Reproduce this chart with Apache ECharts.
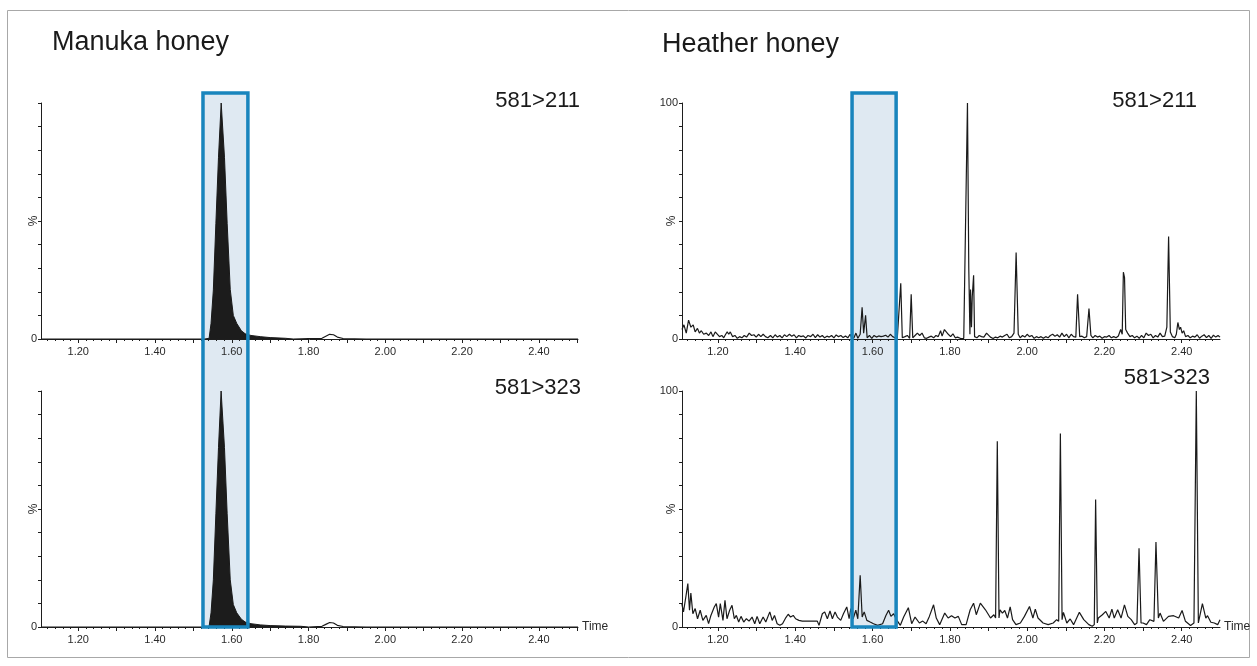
<!DOCTYPE html>
<html><head><meta charset="utf-8">
<script src="https://cdn.jsdelivr.net/npm/echarts@6/dist/echarts.min.js"></script>
<style>html,body{margin:0;padding:0;background:#fff}#c{width:1257px;height:666px}</style>
</head><body><div id="c"></div>
<script>
const FONT = '"Liberation Sans", Arial, sans-serif';

// ---- tick values ----
const xTickLabels = [1.2, 1.4, 1.6, 1.8, 2.0, 2.2, 2.4];
const xMajorTicks = [1.2, 1.3, 1.4, 1.5, 1.6, 1.7, 1.8, 1.9, 2.0, 2.1, 2.2, 2.3, 2.4, 2.5];
const xMinorTicks = [1.12,1.14,1.16,1.18,1.20,1.22,1.24,1.26,1.28,1.30,1.32,1.34,1.36,1.38,1.40,1.42,1.44,1.46,1.48,1.50,
  1.52,1.54,1.56,1.58,1.60,1.62,1.64,1.66,1.68,1.70,1.72,1.74,1.76,1.78,1.80,1.82,1.84,1.86,1.88,1.90,
  1.92,1.94,1.96,1.98,2.00,2.02,2.04,2.06,2.08,2.10,2.12,2.14,2.16,2.18,2.20,2.22,2.24,2.26,2.28,2.30,
  2.32,2.34,2.36,2.38,2.40,2.42,2.44,2.46,2.48,2.50];
const yTicks = [0, 10, 20, 30, 40, 50, 60, 70, 80, 90, 100];
const yLabelsLeft = [0];
const yLabelsRight = [0, 100];

// ---- panel texts ----
const panelTitles = ['Manuka honey', 'Heather honey'];
const transitions = ['581>211', '581>323'];

// ---- highlighted retention windows (time) ----
const boxManuka = [1.525, 1.642];
const boxHeather = [1.547, 1.661];
const boxTopPct = 104.2;

// ---- Manuka honey, 581>211 : [time, %] (filled peak, then outline trace) ----
const manuka211Peak = [[1.103,0],[1.400,0],[1.530,0],[1.541,0.3],[1.546,6.6],[1.552,20.8],[1.5586,49],[1.5654,77],
  [1.5724,100],[1.581,77],[1.588,49],[1.596,21],[1.604,10],[1.613,6.6],[1.625,3.5],[1.635,2.2],[1.650,1.5],
  [1.674,1],[1.700,0.6],[1.740,0.3],[1.760,0]];
const manuka211Tail = [[1.760,0],[1.800,0.2],[1.835,0.3],[1.845,1.2],[1.855,2],[1.865,1.8],[1.875,0.8],
  [1.890,0.2],[1.950,0],[2.502,0]];

// ---- Manuka honey, 581>323 ----
const manuka323Peak = [[1.103,0],[1.400,0],[1.530,0],[1.541,0.3],[1.546,6],[1.552,20],[1.5586,48],[1.5654,76],
  [1.5722,100],[1.581,76],[1.588,48],[1.596,20],[1.604,9.5],[1.613,6],[1.625,3.3],[1.635,2.1],[1.650,1.4],
  [1.674,0.9],[1.700,0.6],[1.740,0.4],[1.780,0.3],[1.800,0]];
const manuka323Tail = [[1.800,0],[1.835,0.3],[1.845,1.1],[1.855,1.9],[1.865,1.7],[1.875,0.7],
  [1.890,0.2],[1.950,0],[2.502,0]];

// ---- Heather honey, 581>211 ----
const heather211 = [[1.107,4],[1.112,6],[1.118,2.5],[1.124,8],[1.130,5],[1.136,6],[1.141,3],[1.147,4.5],[1.152,2.5],
  [1.157,3.5],[1.163,2],[1.170,2.5],[1.176,1.5],[1.182,3],[1.187,1],[1.193,3],[1.198,3],[1.204,1],[1.210,1.5],
  [1.215,0.5],[1.220,2],[1.224,3],[1.228,2],[1.232,3],[1.238,1],[1.244,1.5],[1.250,0.3],[1.256,1],[1.262,0.5],
  [1.268,1.5],[1.274,0.8],[1.281,2.5],[1.287,1.5],[1.293,1.8],[1.299,0.8],[1.305,2],[1.311,1],[1.317,2],[1.323,1],
  [1.329,0.5],[1.336,1.5],[1.342,0.5],[1.348,1.8],[1.354,0.8],[1.360,1.5],[1.366,0.5],[1.372,1.8],[1.378,1],
  [1.385,2],[1.391,1.2],[1.397,1.8],[1.403,0.5],[1.409,1.5],[1.415,1],[1.421,1.3],[1.427,0.4],[1.433,1.5],[1.440,1],
  [1.446,2],[1.452,0.6],[1.458,1.8],[1.464,0.8],[1.470,1.5],[1.476,0.5],[1.482,1.2],[1.488,0.8],[1.494,1.5],
  [1.500,0.5],[1.506,1.7],[1.512,1],[1.518,1.5],[1.524,0.6],[1.530,1.3],[1.536,0.5],[1.542,2],[1.546,0.5],
  [1.552,0.5],[1.557,2.5],[1.562,0.3],[1.568,2],[1.573,13.4],[1.577,2.5],[1.582,10],[1.586,0.5],[1.592,1.5],
  [1.598,0.3],[1.604,1.5],[1.610,0.8],[1.616,1.3],[1.622,1],[1.628,1.2],[1.634,1.6],[1.640,0.8],[1.646,2],
  [1.652,1],[1.658,0.5],[1.664,0.3],[1.669,1],[1.673,23.6],[1.677,0.5],[1.684,1],[1.690,1.5],[1.696,0.3],
  [1.700,19],[1.704,0.5],[1.710,1.5],[1.716,2.5],[1.722,1.5],[1.728,2.5],[1.734,0.5],[1.740,0.3],[1.746,0.8],
  [1.752,1.2],[1.758,0.5],[1.764,1.5],[1.770,1],[1.776,3.5],[1.780,1.2],[1.786,4],[1.791,3.8],[1.796,2],
  [1.802,1],[1.808,2.2],[1.814,0.5],[1.820,0.8],[1.828,0.2],[1.836,0.3],[1.841,0.5],[1.8456,100],[1.849,30],
  [1.852,2],[1.8535,21],[1.856,5],[1.858,18],[1.8615,27],[1.864,1],[1.870,0.5],[1.876,1.5],[1.882,1],[1.888,0.8],
  [1.895,2.5],[1.900,3],[1.905,0.8],[1.912,0.2],[1.918,0.8],[1.924,0.5],[1.930,1.2],[1.936,0.8],[1.942,1.5],
  [1.948,2],[1.954,0.5],[1.960,1],[1.966,2.5],[1.9715,36.6],[1.977,2],[1.982,0.5],[1.988,1.5],[1.994,0.8],
  [2.000,2],[2.006,1],[2.012,1.5],[2.018,0.3],[2.024,1],[2.030,0.5],[2.036,1],[2.042,0.3],[2.048,1],[2.054,0.5],
  [2.060,1.5],[2.066,2],[2.072,1.2],[2.078,1.8],[2.084,0.8],[2.090,2.5],[2.096,1],[2.102,2],[2.108,0.5],
  [2.114,2],[2.120,1],[2.126,0.8],[2.1305,19],[2.136,1],[2.142,1.2],[2.148,0.5],[2.154,1],[2.160,12.9],
  [2.165,1.5],[2.170,0.5],[2.176,1.5],[2.182,0.8],[2.188,1.2],[2.194,0.3],[2.200,1],[2.206,0.8],[2.212,1.5],
  [2.218,0.5],[2.224,1],[2.230,0.5],[2.236,1.3],[2.242,4],[2.246,2],[2.249,28.3],[2.252,26],[2.255,4],
  [2.260,2.5],[2.266,1],[2.272,1.5],[2.278,0.5],[2.284,1.2],[2.290,0.3],[2.296,1.5],[2.302,0.5],[2.308,2.5],
  [2.314,1.5],[2.320,2],[2.326,0.5],[2.332,1.5],[2.338,0.8],[2.344,2.5],[2.350,1],[2.356,1.2],[2.3615,5],
  [2.366,43.4],[2.3705,3],[2.376,1],[2.382,0.5],[2.386,2],[2.390,7],[2.394,4],[2.397,5],[2.401,2.5],[2.405,3.5],
  [2.410,1],[2.416,1.5],[2.422,0.5],[2.428,1.2],[2.434,0.8],[2.440,1.8],[2.446,0.3],[2.452,1.2],[2.458,1.8],
  [2.464,0.6],[2.470,1.5],[2.476,0.3],[2.482,1.6],[2.488,0.8],[2.494,1.5],[2.499,0.8]];

// ---- Heather honey, 581>323 ----
const heather323 = [[1.1065,9.9],[1.1108,6.4],[1.1169,12.7],[1.1221,18.4],[1.1264,7.1],[1.1299,14.4],[1.1351,5.6],
  [1.1411,7.8],[1.1472,3.5],[1.1541,7.1],[1.1610,2.8],[1.1697,4.9],[1.1758,1.4],[1.1818,4.9],[1.1905,8.5],
  [1.1957,9.9],[1.2017,4.2],[1.2061,9.9],[1.2130,2.8],[1.2182,11.3],[1.2234,3.5],[1.2303,7.1],[1.2364,9.2],
  [1.2424,3.5],[1.2476,4.9],[1.2537,2.1],[1.2597,4.5],[1.2667,2.1],[1.2736,3.5],[1.2805,2.5],[1.2883,4.2],
  [1.2952,1.4],[1.3013,4.5],[1.3082,1.4],[1.3169,4.2],[1.3238,2.1],[1.3342,6.4],[1.3403,2.8],[1.3463,4.9],
  [1.3532,1.4],[1.3602,0.7],[1.3671,1.4],[1.3758,4],[1.3818,5.4],[1.3879,4.2],[1.3948,4.9],[1.4009,3.5],
  [1.4095,2.8],[1.4182,2.5],[1.4571,2.5],[1.4615,0.7],[1.4701,5.6],[1.4762,6.4],[1.4831,3.5],[1.4900,6.8],
  [1.4961,3.5],[1.5030,6.4],[1.5091,4.2],[1.5177,2.8],[1.5247,5.6],[1.5333,8.5],[1.5394,3.5],[1.5437,7.8],
  [1.5498,3.5],[1.5567,7.1],[1.5619,3.5],[1.5680,21.9],[1.5732,4.2],[1.5784,6.4],[1.5853,2.8],[1.5939,2.1],
  [1.6026,1.4],[1.6130,0.7],[1.6260,1.4],[1.6346,4.9],[1.6416,7.1],[1.6476,4.5],[1.6545,5.6],[1.6632,2.8],
  [1.6719,0.7],[1.6805,4.2],[1.6926,8.2],[1.7013,1.4],[1.7100,4.2],[1.7212,1.7],[1.7299,2.5],[1.7385,1.4],
  [1.7470,4.5],[1.7579,9.4],[1.7649,3.8],[1.7737,1],[1.7868,5.9],[1.7956,3.8],[1.8044,4.8],[1.8132,3.8],
  [1.8219,4.5],[1.8307,1],[1.8421,1],[1.8526,7.3],[1.8614,10.1],[1.8684,5.2],[1.8789,10.1],[1.8921,7.3],
  [1.9053,3.8],[1.9140,5.2],[1.9184,3.8],[1.9228,78.7],[1.9272,3.8],[1.9298,7.3],[1.9360,5.9],[1.9421,7],
  [1.9491,3.8],[1.9561,8.5],[1.9623,3.1],[1.9711,1],[1.9825,1.7],[1.9930,4.5],[2.0061,8.7],[2.0149,3.8],
  [2.0211,7.6],[2.0281,3.8],[2.0412,1.7],[2.0544,1],[2.0675,1.7],[2.0763,3.1],[2.0816,2.4],[2.0860,82],
  [2.0904,3.1],[2.0939,6.2],[2.1026,1.7],[2.1114,3.4],[2.1202,1],[2.1351,6.2],[2.1465,3.1],[2.1596,1],
  [2.1684,0.3],[2.1737,1],[2.1772,54],[2.1816,1.7],[2.1842,3.8],[2.1947,5.2],[2.2035,6.6],[2.2123,3.8],
  [2.2193,7.6],[2.2254,3.8],[2.2342,7.3],[2.2430,3.8],[2.2518,9.4],[2.2605,4.5],[2.2693,3.1],[2.2781,1],
  [2.2842,1.7],[2.2895,33.4],[2.2947,1.7],[2.3000,1.7],[2.3088,1],[2.3175,3.1],[2.3281,2.4],[2.3333,36],
  [2.3395,3.8],[2.3439,5.9],[2.3526,2.4],[2.3658,4.5],[2.3789,4.8],[2.3921,3.8],[2.4009,7],[2.4096,2.4],
  [2.4228,0.6],[2.4316,1.7],[2.4377,100],[2.4430,1.7],[2.4535,9.9],[2.4623,3.8],[2.4667,4.8],[2.4754,2],
  [2.4842,1.7],[2.4930,1],[2.4990,3.1]];

// ---- layout ----
const panels = [
  {left: 41, top: 103, width: 537, min: 1.103, max: 2.502, right: false, bottom: false, traces: [[manuka211Peak, true], [manuka211Tail, false]]},
  {left: 41, top: 391, width: 537, min: 1.103, max: 2.502, right: false, bottom: true, traces: [[manuka323Peak, true], [manuka323Tail, false]]},
  {left: 682, top: 103, width: 538, min: 1.107, max: 2.499, right: true, bottom: false, traces: [[heather211, false]]},
  {left: 682, top: 391, width: 538, min: 1.107, max: 2.499, right: true, bottom: true, traces: [[heather323, false]]}
];
const AX = '#1e1e1e', TX = '#2a2a2a';

const grid = [], xAxis = [], yAxis = [], series = [];
panels.forEach((p, i) => {
  grid.push({left: p.left, top: p.top, width: p.width, height: 236});
  xAxis.push({
    type: 'value', gridIndex: i, min: p.min, max: p.max, position: 'bottom', offset: 0,
    axisLine: {show: true, onZero: false, lineStyle: {color: AX, width: 1}},
    axisTick: {show: true, customValues: xMajorTicks, length: 4, lineStyle: {color: AX, width: 1}},
    axisLabel: {customValues: xTickLabels, formatter: v => v.toFixed(2), fontSize: 11, color: TX, margin: 7, fontFamily: FONT},
    splitLine: {show: false},
    name: p.bottom ? 'Time' : '', nameLocation: 'end', nameGap: 4,
    nameTextStyle: {fontSize: 12, color: TX, fontFamily: FONT, verticalAlign: 'middle'}
  });
  xAxis.push({
    type: 'value', gridIndex: i, min: p.min, max: p.max, position: 'bottom', offset: 0,
    axisLine: {show: false},
    axisTick: {show: true, customValues: xMinorTicks, length: 2, lineStyle: {color: AX, width: 1}},
    axisLabel: {show: false}, splitLine: {show: false}
  });
  yAxis.push({
    type: 'value', gridIndex: i, min: 0, max: 100,
    axisLine: {show: true, lineStyle: {color: AX, width: 1}},
    axisTick: {show: true, customValues: yTicks, length: 3, lineStyle: {color: AX, width: 1}},
    axisLabel: {customValues: p.right ? yLabelsRight : yLabelsLeft, fontSize: 11, color: TX, margin: 4, fontFamily: FONT},
    splitLine: {show: false},
    name: '%', nameLocation: 'middle', nameGap: p.right ? 4 : 1, nameRotate: 90, nameMoveOverlap: false,
    nameTextStyle: {fontSize: 12, color: TX, fontFamily: FONT}
  });
  p.traces.forEach(([d, fill]) => {
    const s = {
      type: 'line', xAxisIndex: 2 * i, yAxisIndex: i, data: d, showSymbol: false,
      symbol: 'none', smooth: false, z: 3,
      lineStyle: {color: '#1a1a1a', width: fill ? 1 : 1.2}
    };
    if (fill) s.areaStyle = {color: '#1c1c1c', opacity: 1};
    series.push(s);
  });
});

const chart = echarts.init(document.getElementById('c'), null, {renderer: 'canvas'});
chart.setOption({animation: false, backgroundColor: '#fff', grid, xAxis, yAxis, series});

// boxes positioned through the axes' scales
function boxRect(range, gTop, gBot) {
  const a = chart.convertToPixel({gridIndex: gTop}, [range[0], boxTopPct]);
  const b = chart.convertToPixel({gridIndex: gBot}, [range[1], 0]);
  return {x: a[0], y: a[1], width: b[0] - a[0], height: b[1] - a[1]};
}
const r1 = boxRect(boxManuka, 0, 1);
const r2 = boxRect(boxHeather, 2, 3);
const BOXFILL = '#dfe9f2', BOXLINE = '#1985bd';

function txt(text, x, y, size, align) {
  return {type: 'text', x, y, z: 20,
    style: {text, fill: '#1a1a1a', fontSize: size, fontFamily: FONT, align: align, verticalAlign: 'middle'}};
}

chart.setOption({graphic: [
  {type: 'rect', shape: {x: 7.5, y: 10.5, width: 1242, height: 647}, style: {fill: 'none', stroke: '#a8a8a8', lineWidth: 1}, z: -10},
  {type: 'rect', shape: r1, style: {fill: BOXFILL}, z: -5},
  {type: 'rect', shape: r2, style: {fill: BOXFILL}, z: -5},
  {type: 'rect', shape: r1, style: {fill: 'none', stroke: BOXLINE, lineWidth: 3.5}, z: 10},
  {type: 'rect', shape: r2, style: {fill: 'none', stroke: BOXLINE, lineWidth: 3.5}, z: 10},
  txt(panelTitles[0], 52, 43, 27, 'left'),
  txt(panelTitles[1], 662, 45, 27, 'left'),
  txt(transitions[0], 580, 101, 22, 'right'),
  txt(transitions[1], 581, 388, 22, 'right'),
  txt(transitions[0], 1197, 101, 22, 'right'),
  txt(transitions[1], 1210, 378, 22, 'right')
]});
</script>
</body></html>
